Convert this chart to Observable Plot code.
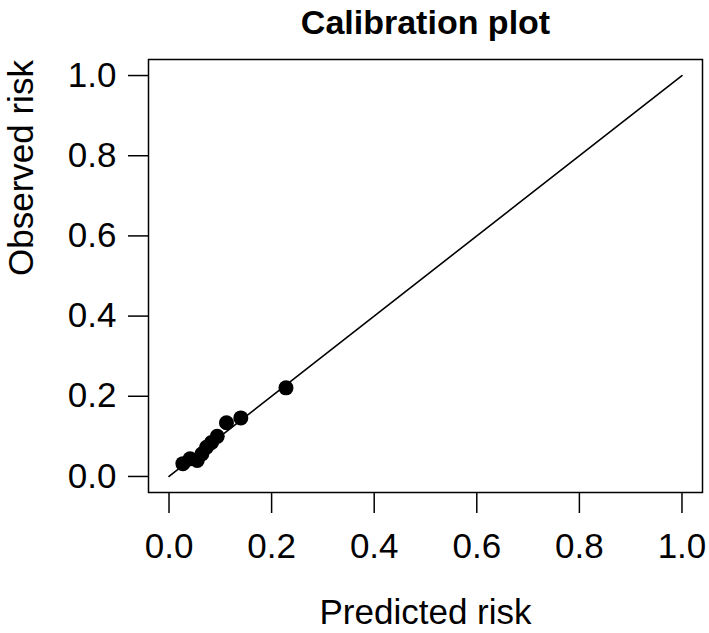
<!DOCTYPE html>
<html>
<head>
<meta charset="utf-8">
<script src="https://cdn.jsdelivr.net/npm/d3@7"></script>
<script src="https://cdn.jsdelivr.net/npm/@observablehq/plot@0.6"></script>
<style>
  html, body { margin: 0; padding: 0; background: #fff; }
  svg { display: block; }
</style>
</head>
<body>
<div id="chart"></div>
<script>
const title = "Calibration plot";
const xLabel = "Predicted risk";
const yLabel = "Observed risk";
const tickValues = [0, 0.2, 0.4, 0.6, 0.8, 1.0];
const predicted = [0.027, 0.041, 0.055, 0.064, 0.073, 0.083, 0.094, 0.112, 0.140, 0.228];
const observed  = [0.032, 0.044, 0.040, 0.056, 0.073, 0.085, 0.100, 0.134, 0.146, 0.221];
const refLine = [0, 1];

const points = predicted.map((p, i) => ({p, o: observed[i]}));
const diag = refLine.map(v => ({p: v, o: v}));

const font = "Liberation Sans, Arial, Helvetica, sans-serif";

const chart = Plot.plot({
  width: 709,
  height: 633,
  marginLeft: 148,
  marginRight: 7,
  marginTop: 59,
  marginBottom: 141,
  style: {fontFamily: font, background: "#fff", color: "#000"},
  x: {domain: [-0.04, 1.04]},
  y: {domain: [-0.04, 1.04]},
  marks: [
    Plot.frame({stroke: "#000", strokeWidth: 1.5}),
    Plot.axisX({ticks: tickValues, tickFormat: d3.format(".1f"), tickSize: 21, tickPadding: 20, fontSize: 35, label: null, strokeWidth: 1.5}),
    Plot.axisY({ticks: tickValues, tickFormat: d3.format(".1f"), tickSize: 20, tickPadding: 12, fontSize: 35, label: null, strokeWidth: 1.5}),
    Plot.line(diag, {x: "p", y: "o", stroke: "#000", strokeWidth: 1.6}),
    Plot.dot(points, {x: "p", y: "o", r: 7.5, fill: "#000", stroke: "none"}),
    Plot.text([title], {frameAnchor: "top", dy: -26, lineAnchor: "bottom", fontSize: 34, fontWeight: "bold", text: d => d}),
    Plot.text([xLabel], {frameAnchor: "bottom", dy: 131, lineAnchor: "bottom", fontSize: 35, text: d => d}),
    Plot.text([yLabel], {frameAnchor: "left", dx: -116, rotate: -90, lineAnchor: "bottom", fontSize: 35, text: d => d})
  ]
});
document.getElementById("chart").appendChild(chart);
</script>
</body>
</html>
